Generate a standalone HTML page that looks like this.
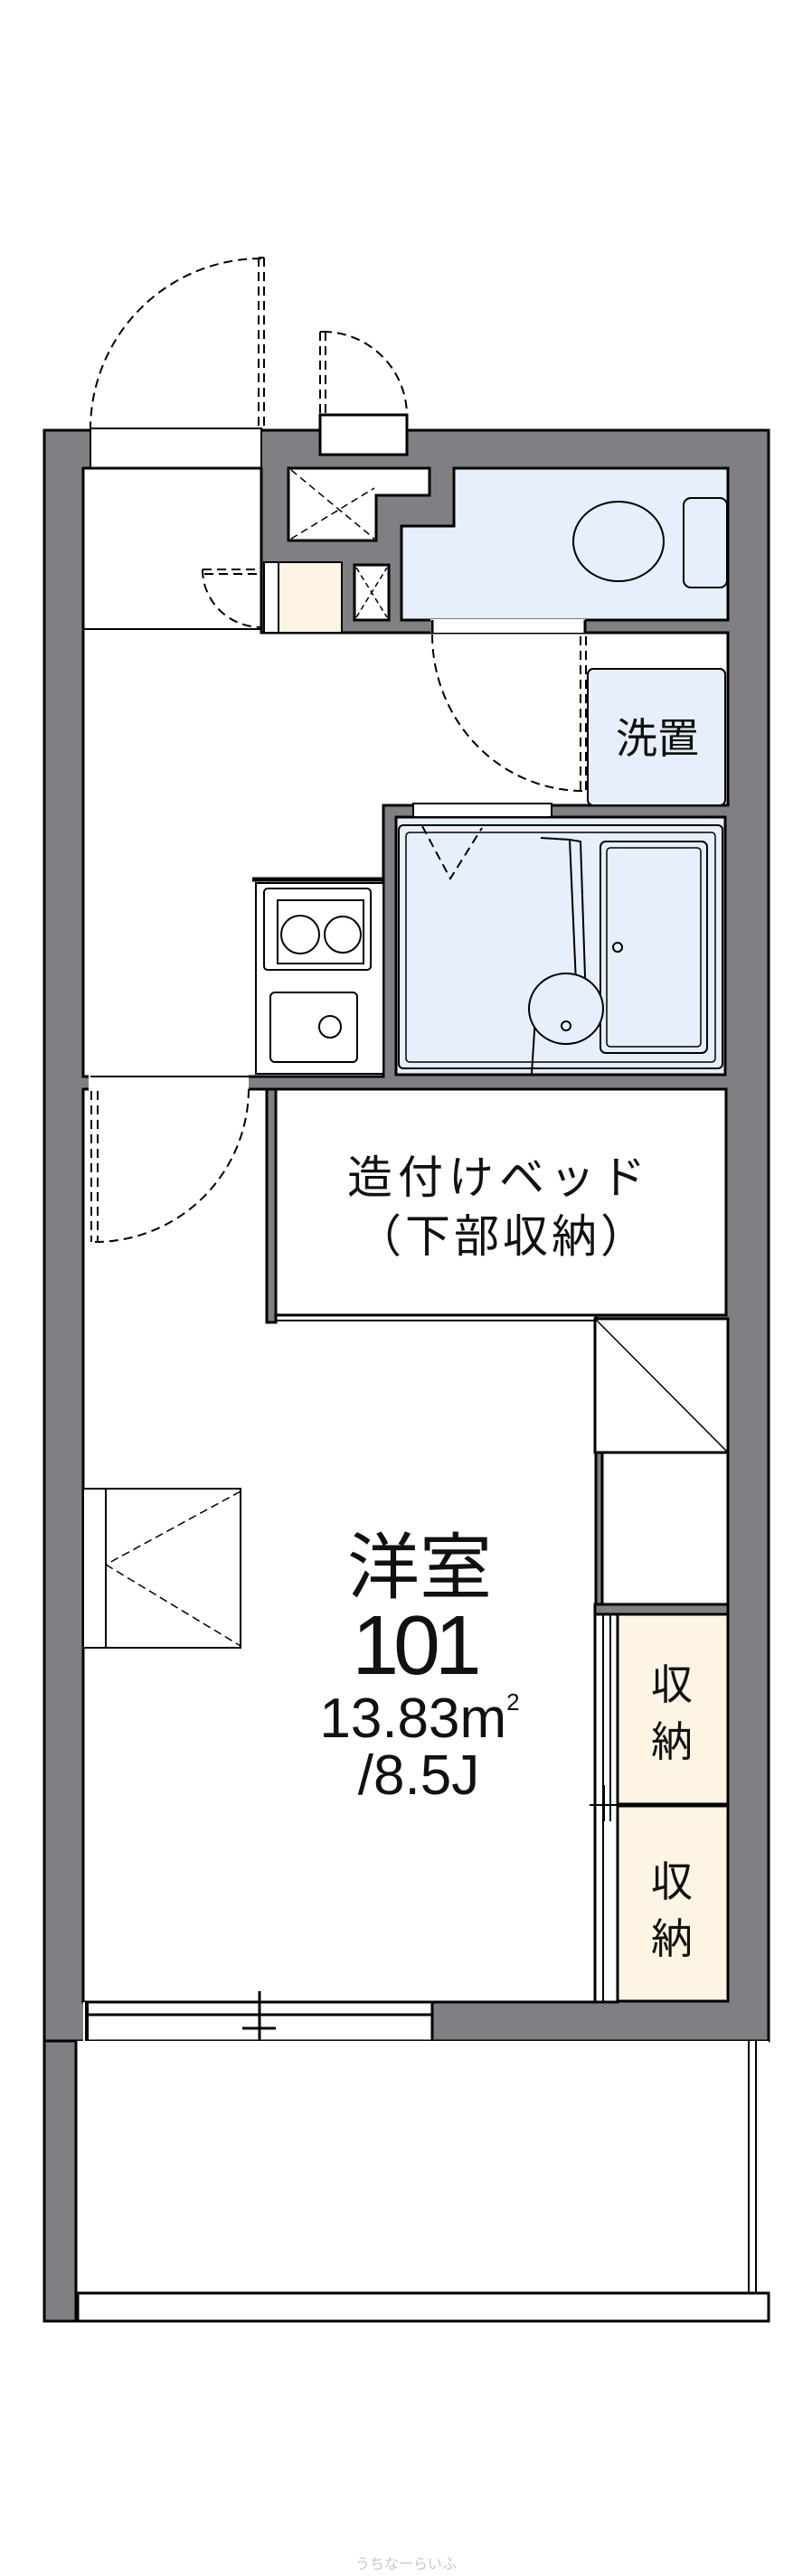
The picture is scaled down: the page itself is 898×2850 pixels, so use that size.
<!DOCTYPE html>
<html><head><meta charset="utf-8"><style>
html,body{margin:0;padding:0;background:#fff}
svg{display:block}
text{font-family:"Liberation Sans","Noto Sans CJK JP",sans-serif;fill:#111}
</style></head><body>
<svg width="898" height="2850" viewBox="0 0 898 2850" xmlns="http://www.w3.org/2000/svg">
<g stroke="#000" stroke-width="3" fill="none">
<!-- outer grey block -->
<rect x="49" y="476" width="801" height="1782" fill="#807f84"/>
<!-- left wall continuing down -->
<rect x="49" y="2258" width="35" height="310" fill="#807f84"/>
<!-- entrance opening -->
<rect x="100" y="474" width="189" height="44" fill="#fff" stroke-width="2"/>
<!-- genkan + corridor -->
<polygon points="92,518 289,518 289,700 805,700 805,891 424,891 424,1191 92,1191" fill="#fff"/>
<line x1="92" y1="696" x2="289" y2="696" stroke-width="2"/>
<!-- toilet -->
<polygon points="502,518 805,518 805,686 444,686 444,582 502,582" fill="#e6effb"/>
<ellipse cx="684" cy="599" rx="50" ry="44" fill="#e6effb" stroke-width="2"/>
<rect x="756" y="551" width="48" height="99" rx="8" fill="#e6effb" stroke-width="2"/>
<rect x="476" y="685" width="171" height="15" fill="#fff" stroke="none"/>
<line x1="478" y1="686" x2="478" y2="700"/>
<line x1="647" y1="686" x2="647" y2="700"/>
<!-- PS -->
<polygon points="319,518 475,518 475,548 416,548 416,598 319,598" fill="#fff" stroke-width="3"/>
<g stroke-dasharray="8,5" stroke-width="1.5"><line x1="322" y1="520" x2="414" y2="596"/><line x1="322" y1="596" x2="414" y2="540"/></g>
<rect x="354" y="459" width="96" height="44" fill="#fff"/>
<rect x="392" y="625" width="38" height="61" fill="#fff"/>
<g stroke-dasharray="6,4" stroke-width="1.5"><line x1="394" y1="628" x2="428" y2="683"/><line x1="394" y1="683" x2="428" y2="628"/></g>
<rect x="292" y="622" width="16" height="78" fill="#fff" stroke-width="2"/>
<rect x="308" y="622" width="70" height="78" fill="#fdf4e3" stroke-width="2"/>
<!-- 洗置 -->
<rect x="650" y="740" width="152" height="151" rx="6" fill="#e6effb" stroke-width="2"/>
<text x="727" y="833" font-size="46" text-anchor="middle" stroke="none">洗置</text>
<!-- bathroom -->
<rect x="438" y="904" width="364" height="285" fill="#e6effb"/>
<rect x="441" y="913" width="358" height="269" rx="5" stroke-width="2"/>
<rect x="449" y="921" width="342" height="254" rx="4" stroke-width="1.5"/>
<rect x="664" y="931" width="118" height="234" rx="6" stroke-width="2"/>
<rect x="671" y="938" width="104" height="220" rx="4" stroke-width="1.5"/>
<circle cx="683" cy="1048" r="5" stroke-width="2"/>
<path d="M598,927 L630,929 L638,1110 M630,929 L642,931 L648,1110 M592,1125 L588,1188" stroke-width="2"/>
<ellipse cx="626" cy="1116" rx="41" ry="39" fill="#e6effb" stroke-width="2"/>
<circle cx="626" cy="1135" r="5" stroke-width="2"/>
<rect x="457" y="889" width="153" height="15" fill="#fff" stroke-width="2"/>
<!-- kitchen -->
<rect x="283" y="977" width="141" height="211" fill="#fff" stroke-width="2"/>
<line x1="279" y1="973" x2="424" y2="973" stroke-width="5"/>
<rect x="292" y="983" width="118" height="90" rx="4" stroke-width="2"/>
<rect x="307" y="996" width="95" height="70" stroke-width="2"/>
<circle cx="332" cy="1034" r="21" stroke-width="2"/>
<circle cx="379" cy="1034" r="20" stroke-width="2"/>
<rect x="299" y="1098" width="96" height="77" rx="5" stroke-width="2"/>
<circle cx="365" cy="1136" r="12" stroke-width="2"/>
<!-- room -->
<rect x="92" y="1205" width="567" height="1010" fill="#fff"/>
<rect x="98" y="1189" width="177" height="18" fill="#fff" stroke="none"/>
<line x1="100" y1="1191" x2="275" y2="1191" stroke-width="2"/>
<!-- bed -->
<rect x="295" y="1205" width="10" height="258" fill="#807f84"/>
<rect x="305" y="1205" width="498" height="250" fill="#fff"/>
<line x1="305" y1="1461" x2="660" y2="1461" stroke-width="2"/>
<text x="552" y="1320" font-size="50" text-anchor="middle" letter-spacing="6" stroke="none">造付けベッド</text>
<text x="556" y="1385" font-size="50" text-anchor="middle" letter-spacing="4" stroke="none">（下部収納）</text>
<!-- right closets -->
<rect x="658" y="1459" width="147" height="148" fill="#fff"/>
<line x1="658" y1="1459" x2="805" y2="1607" stroke-width="1.5"/>
<rect x="666" y="1607" width="139" height="168" fill="#fff"/>
<rect x="658" y="1775" width="147" height="11" fill="#807f84"/>
<rect x="658" y="1786" width="25" height="429" fill="#fff"/>
<line x1="667" y1="1786" x2="667" y2="2215" stroke-width="2"/>
<line x1="675" y1="1786" x2="675" y2="2015" stroke-width="2"/>
<line x1="652" y1="1997" x2="682" y2="1997" stroke-width="2"/>
<line x1="668" y1="1975" x2="668" y2="2015" stroke-width="2"/>
<rect x="683" y="1786" width="122" height="211" fill="#fdf4e3"/>
<rect x="683" y="1997" width="122" height="217" fill="#fdf4e3"/>
<line x1="683" y1="1997" x2="805" y2="1997" stroke-width="5"/>
<text x="743" y="1880" font-size="46" text-anchor="middle" stroke="none">収</text>
<text x="743" y="1943" font-size="46" text-anchor="middle" stroke="none">納</text>
<text x="743" y="2098" font-size="46" text-anchor="middle" stroke="none">収</text>
<text x="743" y="2161" font-size="46" text-anchor="middle" stroke="none">納</text>
<!-- left window -->
<rect x="92" y="1647" width="174" height="176" fill="#fff" stroke-width="2"/>
<line x1="117" y1="1647" x2="117" y2="1823" stroke-width="2"/>
<g stroke-dasharray="9,5" stroke-width="1.5"><line x1="266" y1="1650" x2="117" y2="1731"/><line x1="117" y1="1731" x2="266" y2="1821"/></g>
<!-- bottom window -->
<rect x="92" y="2215" width="386" height="43" fill="#fff" stroke="none"/>
<line x1="96" y1="2215" x2="478" y2="2215" stroke-width="3"/>
<line x1="96" y1="2229" x2="478" y2="2229" stroke-width="3"/>
<line x1="96" y1="2258" x2="478" y2="2258" stroke-width="3"/>
<line x1="96" y1="2215" x2="96" y2="2258" stroke-width="4"/>
<line x1="478" y1="2215" x2="478" y2="2258" stroke-width="3"/>
<line x1="287" y1="2203" x2="287" y2="2270" stroke-width="3"/>
<line x1="268" y1="2244" x2="305" y2="2244" stroke-width="3"/>
<!-- balcony -->
<rect x="84" y="2258" width="766" height="279" fill="#fff" stroke="none"/>
<line x1="84" y1="2258" x2="84" y2="2568" stroke-width="3"/>
<line x1="828" y1="2258" x2="828" y2="2537" stroke-width="2"/>
<line x1="836" y1="2258" x2="836" y2="2537" stroke-width="2"/>
<rect x="86" y="2537" width="764" height="31" fill="#fff"/>
<!-- doors -->
<g stroke-dasharray="10,6" stroke-width="2">
<line x1="286" y1="285" x2="286" y2="474"/><line x1="292" y1="285" x2="292" y2="474"/>
<line x1="286" y1="285" x2="292" y2="285"/>
<path d="M289,286 A189,189 0 0 0 100,475"/>
<line x1="354" y1="367" x2="354" y2="459"/><line x1="360" y1="367" x2="360" y2="459"/>
<line x1="354" y1="367" x2="360" y2="367"/>
<path d="M357,367 A93,93 0 0 1 450,459"/>
<line x1="224" y1="630" x2="289" y2="630"/><line x1="226" y1="635" x2="289" y2="635"/>
<path d="M224,630 A65,64 0 0 0 289,694"/>
<line x1="642" y1="704" x2="642" y2="875"/><line x1="648" y1="704" x2="648" y2="875"/>
<path d="M478,702 A167,173 0 0 0 645,875"/>
<path d="M467,914 L498,972 L533,916"/>
<line x1="101" y1="1207" x2="101" y2="1374"/><line x1="108" y1="1207" x2="108" y2="1374"/>
<path d="M275,1205 A170,170 0 0 1 105,1374"/>
</g>
</g>
<text x="464" y="1762" font-size="80" text-anchor="middle">洋室</text>
<text x="458" y="1852" font-size="93" text-anchor="middle" letter-spacing="-6">101</text>
<text x="464" y="1922" font-size="62" text-anchor="middle">13.83m<tspan font-size="26" dy="-30">2</tspan></text>
<text x="463" y="1985" font-size="62" text-anchor="middle">/8.5J</text>
<text x="449" y="2842" font-size="16" text-anchor="middle" style="fill:#c8c8c8">うちなーらいふ</text>
</svg>
</body></html>
